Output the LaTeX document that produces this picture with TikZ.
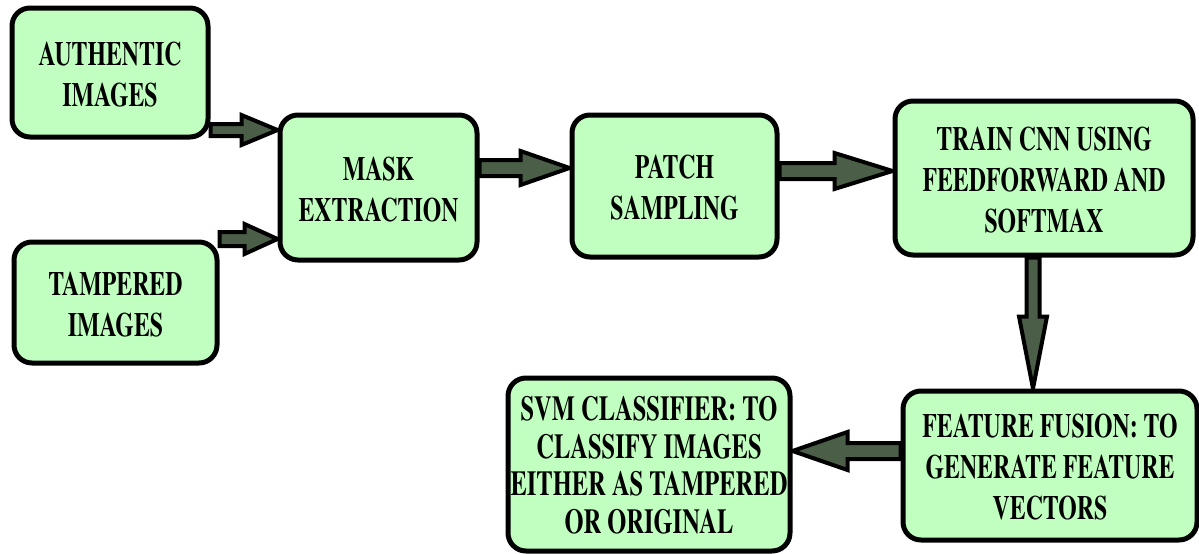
\documentclass[tikz,border=0pt]{standalone}
\usepackage[T1]{fontenc}
\renewcommand\rmdefault{ptm}
\usetikzlibrary{calc}
\pgfdeclarelayer{background}
\pgfsetlayers{background,main}
\definecolor{boxgreen}{RGB}{192,255,192}
\definecolor{arrgreen}{RGB}{75,94,72}
\newcommand\btext[1]{\raisebox{-5pt}[\height][\depth]{\scalebox{0.7}[1]{\begin{tabular}{@{}c@{}}#1\end{tabular}}}}
\tikzset{
  box/.style={draw=black, fill=boxgreen, line width=5pt, rounded corners=18pt,
    align=center, inner sep=2pt, font=\rmfamily\bfseries\fontsize{34}{41}\selectfont},
  barrowsty/.style={draw=black, fill=arrgreen, line width=4pt, line join=miter}
}
% #1 start coordinate, #2 tip coordinate, #3 head length, #4 shaft half width, #5 head half width
\newcommand\blockarr[5]{%
  \coordinate (hb) at ($(#2)!#3pt!(#1)$);
  \filldraw[barrowsty] ($(#1)!#4pt!90:(#2)$) -- ($(hb)!#4pt!90:(#2)$) -- ($(hb)!#5pt!90:(#2)$)
    -- (#2) -- ($(hb)!#5pt!-90:(#2)$) -- ($(hb)!#4pt!-90:(#2)$) -- ($(#1)!#4pt!-90:(#2)$) -- cycle;
}
\begin{document}
\begin{tikzpicture}[x=1pt,y=-1pt]
\useasboundingbox (0,0) rectangle (1199,554);
\node[box, minimum width=196pt, minimum height=129pt] (auth) at (110,72.5) {\btext{AUTHENTIC\\IMAGES}};
\node[box, minimum width=203pt, minimum height=121pt] (tamp) at (115.5,302.5) {\btext{TAMPERED\\IMAGES}};
\node[box, minimum width=197pt, minimum height=145pt] (mask) at (378.5,187.5) {\btext{MASK\\EXTRACTION}};
\node[box, minimum width=205pt, minimum height=142pt] (patch) at (674.5,186) {\btext{PATCH\\SAMPLING}};
\node[box, minimum width=298pt, minimum height=154pt] (cnn) at (1044,178) {\btext{TRAIN CNN USING\\FEEDFORWARD AND\\SOFTMAX}};
\node[box, minimum width=294pt, minimum height=149pt] (fusion) at (1050,465.5) {\btext{FEATURE FUSION: TO\\GENERATE FEATURE\\VECTORS}};
\node[box, minimum width=282pt, minimum height=173pt, font=\rmfamily\bfseries\fontsize{35}{37.5}\selectfont] (svm) at (649,464.5) {\btext{SVM CLASSIFIER: TO\\CLASSIFY IMAGES\\EITHER AS TAMPERED\\OR ORIGINAL}};
\coordinate (a1s) at (auth.east |- 0,130);
\coordinate (a1e) at (mask.west |- 0,130);
\coordinate (a2s) at (tamp.east |- 0,239);
\coordinate (a2e) at (mask.west |- 0,239);
\coordinate (a3s) at (mask.east |- 0,168);
\coordinate (a3e) at (patch.west |- 0,168);
\coordinate (a4s) at (patch.east |- 0,171);
\coordinate (a4e) at (cnn.west |- 0,171);
\coordinate (a5s) at (1033,0 |- cnn.south);
\coordinate (a5e) at (1033,0 |- fusion.north);
\coordinate (a6s) at (fusion.west |- 0,451);
\coordinate (a6e) at (svm.east |- 0,451);
\begin{pgfonlayer}{background}
\blockarr{a1s}{a1e}{36}{6}{15}
\blockarr{a2s}{a2e}{33}{7}{15}
\blockarr{a3s}{a3e}{49}{8}{17}
\blockarr{a4s}{a4e}{58}{8}{18}
\blockarr{a5s}{a5e}{72}{6.5}{14}
\blockarr{a6s}{a6e}{55}{8}{19}
\end{pgfonlayer}
\end{tikzpicture}
\end{document}
